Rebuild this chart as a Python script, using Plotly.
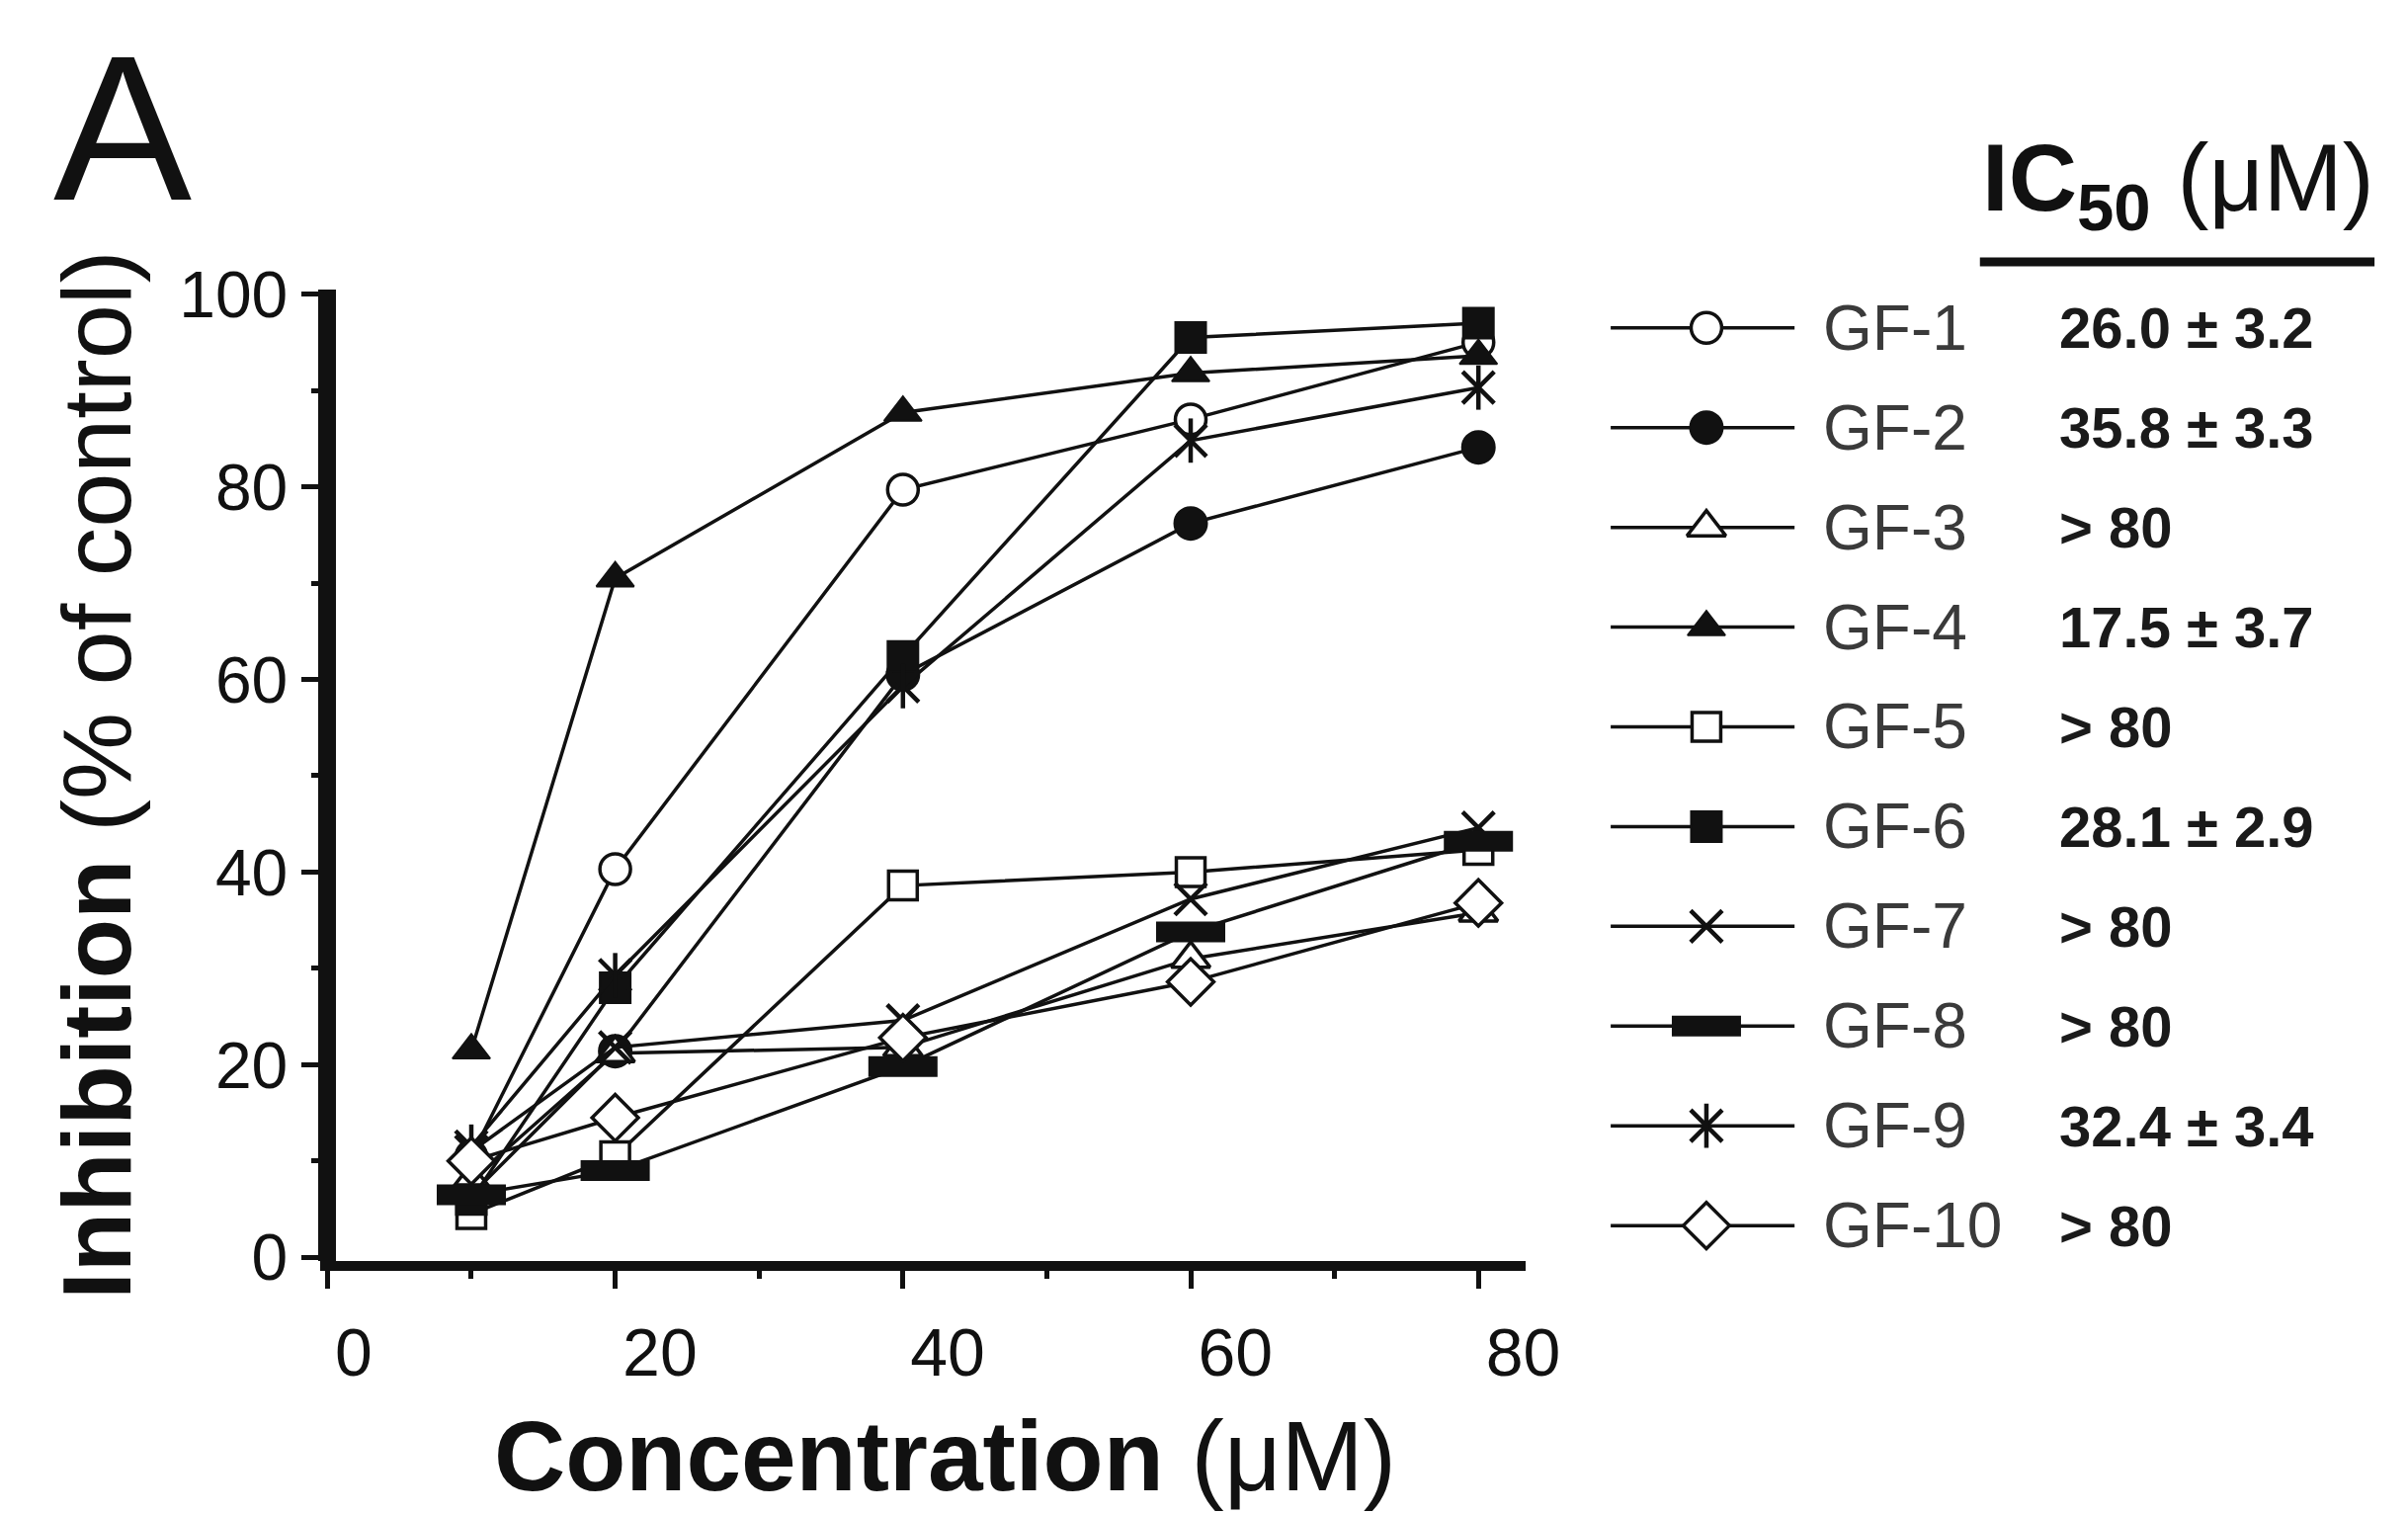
import plotly.graph_objects as go

W, H = 2437, 1532

# data
concentration = [10, 20, 40, 60, 80]
names = ["GF-1", "GF-2", "GF-3", "GF-4", "GF-5", "GF-6", "GF-7", "GF-8", "GF-9", "GF-10"]
gf1 = [10.5, 40.3, 79.7, 87.0, 95.0]
gf2 = [6.5, 21.4, 60.5, 76.2, 84.1]
gf3 = [8.0, 21.2, 21.8, 31.0, 35.8]
gf4 = [21.5, 70.5, 87.7, 91.8, 93.6]
gf5 = [4.5, 10.5, 38.6, 40.0, 42.3]
gf6 = [6.0, 28.0, 62.4, 95.5, 97.0]
gf7 = [11.0, 21.8, 24.6, 37.2, 44.6]
gf8 = [6.5, 9.0, 19.8, 33.8, 43.2]
gf9 = [11.5, 29.3, 59.3, 84.8, 90.3]
gf10 = [10.0, 14.5, 22.8, 28.6, 36.8]
ic50 = ["26.0 ± 3.2", "35.8 ± 3.3", "> 80", "17.5 ± 3.7", "> 80",
        "28.1 ± 2.9", "> 80", "> 80", "32.4 ± 3.4", "> 80"]
x_ticks = [0, 20, 40, 60, 80]
y_ticks = [0, 20, 40, 60, 80, 100]

series = [gf1, gf2, gf3, gf4, gf5, gf6, gf7, gf8, gf9, gf10]

BLACK = "#111111"
FONT = "Liberation Sans, Arial, sans-serif"


def px(v):
    return v / W


def py(v):
    return 1 - v / H


styles = [
    dict(symbol="circle", color="white", size=31, lw=3.5),
    dict(symbol="circle", color=BLACK, size=33, lw=2),
    dict(symbol="triangle-up", color="white", size=34, lw=3.5),
    dict(symbol="triangle-up", color=BLACK, size=33, lw=2),
    dict(symbol="square", color="white", size=29, lw=3.5),
    dict(symbol="square", color=BLACK, size=31, lw=2),
    dict(symbol="x-thin-open", color=BLACK, size=32, lw=4.5),
    dict(symbol="line-ew-open", color=BLACK, size=50, lw=21),
    dict(symbol="x-thin-open", color=BLACK, size=32, lw=4.5),
    dict(symbol="diamond", color="white", size=36, lw=3.5),
]


def marker(st):
    return dict(symbol=st["symbol"], color=st["color"], size=st["size"],
                line=dict(color=BLACK, width=st["lw"]))


# vertical bar that turns the x of GF-9 into an asterisk
bar_marker = dict(symbol="line-ns-open", size=32, color=BLACK,
                  line=dict(color=BLACK, width=4.5))

fig = go.Figure()

for name, vals, st in zip(names, series, styles):
    fig.add_trace(go.Scatter(
        x=concentration, y=vals, name=name, mode="lines+markers",
        line=dict(color=BLACK, width=3.5), marker=marker(st),
        showlegend=False, cliponaxis=False))
    if name == "GF-9":
        fig.add_trace(go.Scatter(
            x=concentration, y=vals, mode="markers", showlegend=False,
            marker=bar_marker, cliponaxis=False))

# legend keys drawn on their own small axes, one row per compound
for i, (name, st) in enumerate(zip(names, styles)):
    fig.add_trace(go.Scatter(
        x=[0, 1], y=[i, i], mode="lines", xaxis="x2", yaxis="y2",
        line=dict(color=BLACK, width=3.5), showlegend=False, hoverinfo="skip"))
    fig.add_trace(go.Scatter(
        x=[0.52], y=[i], mode="markers", xaxis="x2", yaxis="y2",
        marker=marker(st), showlegend=False, hoverinfo="skip"))
    if name == "GF-9":
        fig.add_trace(go.Scatter(
            x=[0.52], y=[i], mode="markers", xaxis="x2", yaxis="y2",
            marker=bar_marker, showlegend=False, hoverinfo="skip"))

annotations = []
for i, (name, val) in enumerate(zip(names, ic50)):
    annotations.append(dict(
        x=px(1861), y=i, xref="paper", yref="y2", text=name, showarrow=False,
        xanchor="left", yanchor="middle",
        font=dict(family=FONT, size=64, color="#3a3a3a")))
    annotations.append(dict(
        x=px(2103), y=i, xref="paper", yref="y2", text="<b>" + val + "</b>",
        showarrow=False, xanchor="left", yanchor="middle",
        font=dict(family=FONT, size=58, color="#1a1a1a")))

annotations += [
    dict(x=px(2024), y=py(153), xref="paper", yref="paper",
         text="<b>IC<sub>50</sub></b> (μM)", showarrow=False,
         xanchor="left", yanchor="middle",
         font=dict(family=FONT, size=96, color="#111111")),
    dict(x=px(118), y=py(93), xref="paper", yref="paper", text="A",
         showarrow=False, xanchor="center", yanchor="middle",
         font=dict(family=FONT, size=210, color="#111111")),
    dict(x=px(90), y=py(777), xref="paper", yref="paper",
         text="<b>Inhibition</b> (% of control)", textangle=-90,
         showarrow=False, xanchor="center", yanchor="middle",
         font=dict(family=FONT, size=99, color="#111111")),
    dict(x=px(962), y=py(1496), xref="paper", yref="paper",
         text="<b>Concentration</b> (μM)", showarrow=False,
         xanchor="center", yanchor="middle",
         font=dict(family=FONT, size=100, color="#111111")),
]

fig.update_layout(
    width=W, height=H, autosize=False,
    margin=dict(l=0, r=0, t=0, b=0),
    paper_bgcolor="white", plot_bgcolor="white",
    font=dict(family=FONT, color="#111111"),
    annotations=annotations,
    shapes=[dict(type="line", xref="paper", yref="paper",
                 x0=px(2024), x1=px(2429), y0=py(235), y1=py(235),
                 line=dict(color="#111111", width=9))],
    xaxis=dict(
        domain=[px(320), px(1558)], range=[-0.54, 83.3],
        showline=True, linewidth=10, linecolor=BLACK,
        showgrid=False, zeroline=True, zerolinewidth=18, zerolinecolor=BLACK,
        tickvals=x_ticks, ticks="outside", ticklen=18, tickwidth=5,
        tickcolor=BLACK, ticklabelposition="outside right",
        ticklabelstandoff=24,
        tickfont=dict(family=FONT, size=68, color="#111111"),
        minor=dict(ticks="outside", ticklen=8, tickwidth=5,
                   tickcolor=BLACK, dtick=10, tick0=0),
        anchor="y", fixedrange=True),
    yaxis=dict(
        domain=[py(1291), py(264)], range=[-0.4, 100.5],
        showline=False, showgrid=False, zeroline=False,
        tickvals=y_ticks, ticks="outside", ticklen=18, tickwidth=5,
        tickcolor=BLACK,
        tickfont=dict(family=FONT, size=66, color="#111111"),
        minor=dict(ticks="outside", ticklen=8, tickwidth=5,
                   tickcolor=BLACK, dtick=10, tick0=0),
        anchor="x", fixedrange=True),
    xaxis2=dict(domain=[px(1645), px(1834)], range=[0, 1], visible=False,
                anchor="y2", fixedrange=True),
    yaxis2=dict(domain=[py(1306), py(252)], range=[9.5, -0.5], visible=False,
                anchor="x2", fixedrange=True),
)

fig.write_html("out.html")
